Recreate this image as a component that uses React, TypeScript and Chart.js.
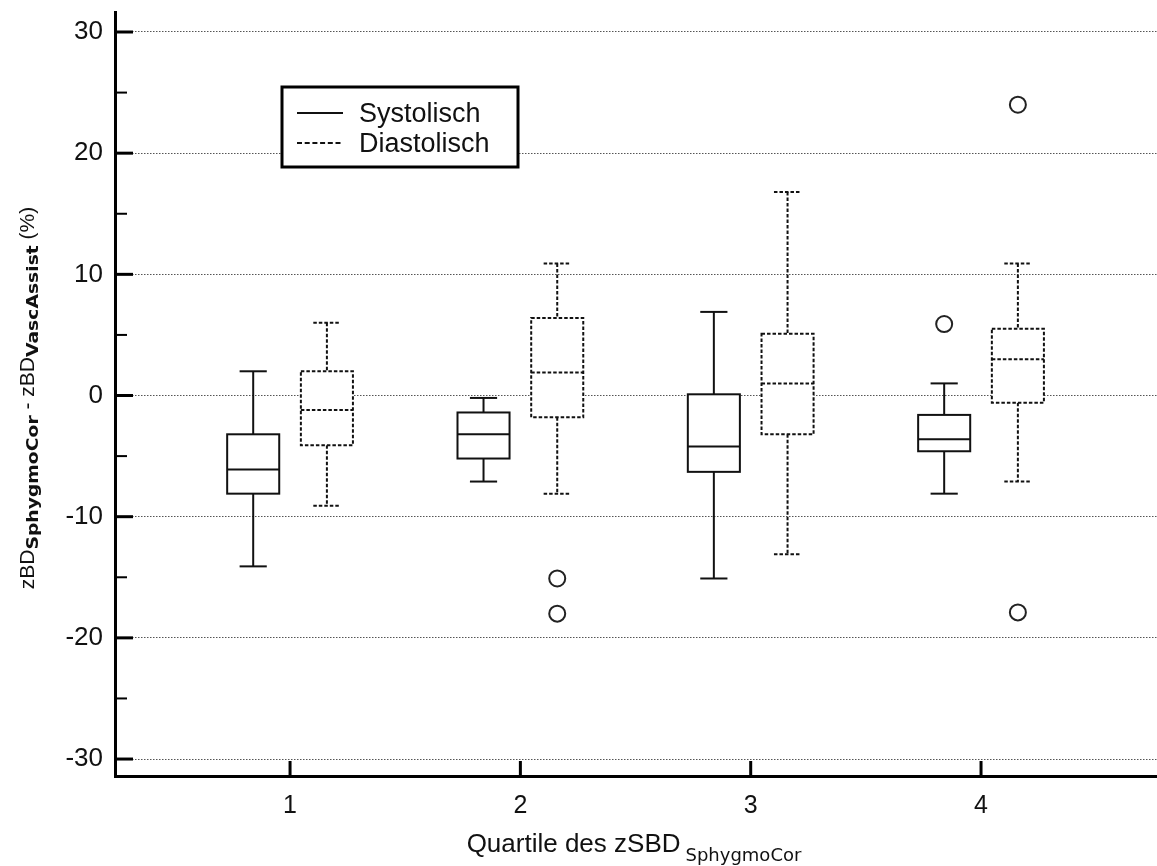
import React, { useEffect, useRef } from "react";
import { Chart, registerables } from "chart.js";

Chart.register(...registerables);

// ---- data ----
const categories = [1, 2, 3, 4];
const xTickLabels = ["1", "2", "3", "4"];
const seriesNames = ["Systolisch", "Diastolisch"];

const sysMin = [-14.1, -7.1, -15.1, -8.1];
const sysQ1 = [-8.1, -5.2, -6.3, -4.6];
const sysMedian = [-6.1, -3.2, -4.2, -3.6];
const sysQ3 = [-3.2, -1.4, 0.1, -1.6];
const sysMax = [2.0, -0.2, 6.9, 1.0];
const sysOutliers: number[][] = [[], [], [], [5.9]];

const diaMin = [-9.1, -8.1, -13.1, -7.1];
const diaQ1 = [-4.1, -1.8, -3.2, -0.6];
const diaMedian = [-1.2, 1.9, 1.0, 3.0];
const diaQ3 = [2.0, 6.4, 5.1, 5.5];
const diaMax = [6.0, 10.9, 16.8, 10.9];
const diaOutliers: number[][] = [[], [-15.1, -18.0], [], [24.0, -17.9]];

const yTickValues = [-30, -20, -10, 0, 10, 20, 30];
const yMinorTickValues = [-25, -15, -5, 5, 15, 25];

// ---- style constants ----
const GROUP_OFFSET = 0.16;
const BOX_HALF = 0.113;
const CAP_HALF = 0.059;
const DASH = [3.5, 2];
const INK = "#111";
const MAIN_FONT = "'Liberation Sans', Arial, sans-serif";
const SUB_FONT = "'DejaVu Sans', Verdana, sans-serif";

const outlierPoints = (outs: number[][], off: number) =>
  outs.flatMap((vals, i) => vals.map((v) => ({ x: categories[i] + off, y: v })));

const boxPlugin = {
  id: "boxes",
  beforeDatasetsDraw(chart: any) {
    const { ctx, scales } = chart;
    const x = scales.x;
    const y = scales.y;
    const series = [
      { min: sysMin, q1: sysQ1, med: sysMedian, q3: sysQ3, max: sysMax, off: -GROUP_OFFSET, dash: [] as number[] },
      { min: diaMin, q1: diaQ1, med: diaMedian, q3: diaQ3, max: diaMax, off: GROUP_OFFSET, dash: DASH },
    ];
    ctx.save();
    ctx.strokeStyle = INK;
    ctx.lineWidth = 2;
    const line = (x1: number, y1: number, x2: number, y2: number) => {
      ctx.beginPath();
      ctx.moveTo(x1, y1);
      ctx.lineTo(x2, y2);
      ctx.stroke();
    };
    series.forEach((s) => {
      categories.forEach((c, i) => {
        const cx = x.getPixelForValue(c + s.off);
        const l = x.getPixelForValue(c + s.off - BOX_HALF);
        const r = x.getPixelForValue(c + s.off + BOX_HALF);
        const cl = x.getPixelForValue(c + s.off - CAP_HALF);
        const cr = x.getPixelForValue(c + s.off + CAP_HALF);
        const yMin = y.getPixelForValue(s.min[i]);
        const yQ1 = y.getPixelForValue(s.q1[i]);
        const yMed = y.getPixelForValue(s.med[i]);
        const yQ3 = y.getPixelForValue(s.q3[i]);
        const yMax = y.getPixelForValue(s.max[i]);
        ctx.setLineDash(s.dash);
        line(cx, yMax, cx, yQ3);
        line(cx, yQ1, cx, yMin);
        line(cl, yMax, cr, yMax);
        line(cl, yMin, cr, yMin);
        ctx.fillStyle = "#fff";
        ctx.fillRect(l, yQ3, r - l, yQ1 - yQ3);
        ctx.strokeRect(l, yQ3, r - l, yQ1 - yQ3);
        line(l, yMed, r, yMed);
      });
    });
    ctx.restore();
  },
};

const decorPlugin = {
  id: "decor",
  afterDraw(chart: any) {
    const { ctx, scales, chartArea } = chart;
    const x = scales.x;
    const y = scales.y;
    ctx.save();
    ctx.strokeStyle = "#000";
    ctx.setLineDash([]);
    // inward y ticks
    ctx.lineWidth = 3;
    yTickValues.forEach((v) => {
      const py = y.getPixelForValue(v);
      ctx.beginPath();
      ctx.moveTo(chartArea.left, py);
      ctx.lineTo(chartArea.left + 18, py);
      ctx.stroke();
    });
    ctx.lineWidth = 2;
    yMinorTickValues.forEach((v) => {
      const py = y.getPixelForValue(v);
      ctx.beginPath();
      ctx.moveTo(chartArea.left, py);
      ctx.lineTo(chartArea.left + 12, py);
      ctx.stroke();
    });
    // inward x ticks
    ctx.lineWidth = 3;
    categories.forEach((c) => {
      const px = x.getPixelForValue(c);
      ctx.beginPath();
      ctx.moveTo(px, chartArea.bottom);
      ctx.lineTo(px, chartArea.bottom - 15);
      ctx.stroke();
    });

    // legend
    const lx = chartArea.left + 167;
    const ly = 87;
    const lw = 236;
    const lh = 80;
    ctx.fillStyle = "#fff";
    ctx.fillRect(lx, ly, lw, lh);
    ctx.lineWidth = 3;
    ctx.strokeRect(lx, ly, lw, lh);
    ctx.lineWidth = 2;
    ctx.strokeStyle = INK;
    const rows = [
      { y: ly + 26, dash: [] as number[] },
      { y: ly + 56, dash: [5, 2.7] },
    ];
    ctx.font = `27px ${MAIN_FONT}`;
    ctx.fillStyle = INK;
    ctx.textBaseline = "alphabetic";
    ctx.textAlign = "left";
    rows.forEach((r, i) => {
      ctx.setLineDash(r.dash);
      ctx.beginPath();
      ctx.moveTo(lx + 15, r.y);
      ctx.lineTo(lx + 61, r.y);
      ctx.stroke();
      ctx.setLineDash([]);
      ctx.fillText(seriesNames[i], lx + 77, r.y + 9);
    });

    // x title
    const mainX = "Quartile des zSBD";
    const subX = "SphygmoCor";
    ctx.font = `26px ${MAIN_FONT}`;
    const w1 = ctx.measureText(mainX).width;
    ctx.font = `18px ${SUB_FONT}`;
    const w2 = ctx.measureText(subX).width;
    const gap = 5;
    const cxTitle = (chartArea.left + chartArea.right) / 2 - 2;
    const sx = cxTitle - (w1 + gap + w2) / 2;
    ctx.font = `26px ${MAIN_FONT}`;
    ctx.fillText(mainX, sx, 852);
    ctx.font = `18px ${SUB_FONT}`;
    ctx.fillText(subX, sx + w1 + gap, 861);

    // y title (rotated)
    const runs = [
      { t: "zBD", f: `21px ${MAIN_FONT}`, dy: 0, k: 1 },
      { t: "SphygmoCor", f: `bold 15px ${SUB_FONT}`, dy: 4, k: 1.25 },
      { t: " - zBD", f: `21px ${MAIN_FONT}`, dy: 0, k: 1 },
      { t: "VascAssist", f: `bold 15px ${SUB_FONT}`, dy: 4, k: 1.25 },
      { t: " (%)", f: `21px ${MAIN_FONT}`, dy: 0, k: 1 },
    ];
    const widths = runs.map((r) => {
      ctx.font = r.f;
      return ctx.measureText(r.t).width * r.k;
    });
    const total = widths.reduce((a, b) => a + b, 0);
    ctx.save();
    ctx.translate(34, 398);
    ctx.rotate(-Math.PI / 2);
    let u = -total / 2;
    runs.forEach((r, i) => {
      ctx.save();
      ctx.font = r.f;
      ctx.translate(u, r.dy);
      ctx.scale(r.k, 1);
      ctx.fillText(r.t, 0, 0);
      ctx.restore();
      u += widths[i];
    });
    ctx.restore();

    ctx.restore();
  },
};

const zeroPadding = (s: any) => {
  s.paddingTop = 0;
  s.paddingBottom = 0;
  s.paddingLeft = 0;
  s.paddingRight = 0;
};

export default function App() {
  const ref = useRef<HTMLCanvasElement>(null);
  useEffect(() => {
    const canvas = ref.current;
    if (!canvas) return;
    const chart = new Chart(canvas, {
      type: "scatter",
      data: {
        datasets: [
          {
            label: seriesNames[0],
            data: outlierPoints(sysOutliers, -GROUP_OFFSET),
            pointStyle: "circle",
            pointRadius: 8,
            borderWidth: 2,
            borderColor: "#222",
            backgroundColor: "#fff",
          },
          {
            label: seriesNames[1],
            data: outlierPoints(diaOutliers, GROUP_OFFSET),
            pointStyle: "circle",
            pointRadius: 8,
            borderWidth: 2,
            borderColor: "#222",
            backgroundColor: "#fff",
          },
        ],
      },
      options: {
        responsive: false,
        animation: false,
        layout: { autoPadding: false, padding: { top: 12, left: 0, right: 0, bottom: 0 } },
        plugins: {
          legend: { display: false },
          tooltip: { enabled: false },
        },
        scales: {
          x: {
            type: "linear",
            min: 0.24,
            max: 4.764,
            afterBuildTicks: (s: any) => {
              s.ticks = categories.map((v) => ({ value: v }));
            },
            afterFit: (s: any) => {
              s.height = 90;
              zeroPadding(s);
            },
            ticks: {
              font: { family: MAIN_FONT, size: 25 },
              color: INK,
              padding: 15,
              autoSkip: false,
              maxRotation: 0,
              callback: (v: any) => xTickLabels[categories.indexOf(Number(v))],
            },
            grid: { display: false, drawTicks: false },
            border: { display: true, color: "#000", width: 3 },
          },
          y: {
            type: "linear",
            min: -31.4,
            max: 31.65,
            afterBuildTicks: (s: any) => {
              s.ticks = yTickValues.map((v) => ({ value: v }));
            },
            afterFit: (s: any) => {
              s.width = 115;
              zeroPadding(s);
            },
            ticks: {
              font: { family: MAIN_FONT, size: 26 },
              color: INK,
              padding: 12,
              autoSkip: false,
            },
            grid: { color: "#555", lineWidth: 1, drawTicks: false },
            border: { display: true, color: "#000", width: 3, dash: [1.5, 1.5] },
          },
        },
      },
      plugins: [boxPlugin, decorPlugin],
    } as any);
    return () => chart.destroy();
  }, []);
  return (
    <div style={{ position: "fixed", left: 0, top: 0, width: 1157, height: 866, background: "#fff" }}>
      <canvas ref={ref} width={1157} height={866} />
    </div>
  );
}
